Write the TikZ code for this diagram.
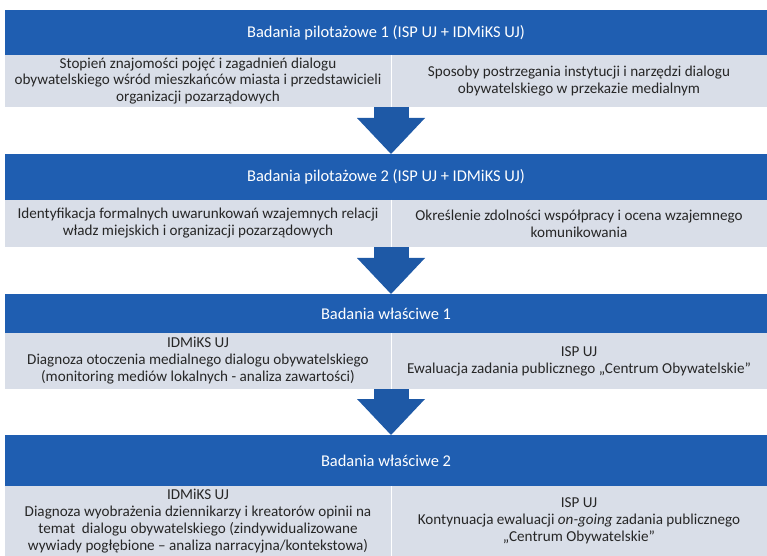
\documentclass[tikz,border=0pt]{standalone}
\usepackage{fontspec}
\setmainfont{Carlito}
\usetikzlibrary{arrows.meta}

\definecolor{HeadBlue}{RGB}{31,94,177}
\definecolor{CellGrey}{RGB}{217,222,232}
\definecolor{ArrowBlue}{RGB}{30,89,166}

\begin{document}
\begin{tikzpicture}[x=1bp,y=-1bp]
  \tikzset{HeadStyle/.style = {
    shape         = rectangle,
    fill          = HeadBlue,
    text          = white,
    anchor        = north west,
    minimum width = 762bp,
    inner sep     = 0pt,
    outer sep     = 0pt,
    font          = \fontsize{16.5}{18}\selectfont
    }
  }
  \tikzset{CellStyle/.style = {
    shape         = rectangle,
    fill          = CellGrey,
    text          = black!85,
    anchor        = north west,
    align         = center,
    inner sep     = 0pt,
    outer sep     = 0pt,
    font          = \fontsize{15.2}{17}\selectfont
    }
  }
  \tikzset{DividerStyle/.style = {
    draw          = white,
    line width    = 1bp
    }
  }
  \tikzset{ArrowStyle/.style = {
    draw          = ArrowBlue,
    line width    = 35bp,
    -{Triangle[width=68bp,length=36bp,line width=0pt]}
    }
  }

  \useasboundingbox (0,0) rectangle (767,556);

	\node[HeadStyle, minimum height=45bp](H1) at (5,10) {Badania pilotażowe 1 (ISP UJ + IDMiKS UJ)};
	\node[CellStyle, minimum width=386bp, minimum height=52bp](L1) at (5,55)
	  {Stopień znajomości pojęć i zagadnień dialogu\\obywatelskiego wśród mieszkańców miasta i przedstawicieli\\organizacji pozarządowych};
	\node[CellStyle, minimum width=376bp, minimum height=52bp](R1) at (391,55)
	  {Sposoby postrzegania instytucji i narzędzi dialogu\\obywatelskiego w przekazie medialnym};

	\node[HeadStyle, minimum height=46bp](H2) at (5,154) {Badania pilotażowe 2 (ISP UJ + IDMiKS UJ)};
	\node[CellStyle, minimum width=386bp, minimum height=47bp](L2) at (5,200)
	  {Identyfikacja formalnych uwarunkowań wzajemnych relacji\\władz miejskich i organizacji pozarządowych};
	\node[CellStyle, minimum width=376bp, minimum height=47bp](R2) at (391,200)
	  {Określenie zdolności współpracy i ocena wzajemnego\\komunikowania};

	\node[HeadStyle, minimum height=39bp](H3) at (5,294) {Badania właściwe 1};
	\node[CellStyle, minimum width=386bp, minimum height=56bp](L3) at (5,333)
	  {IDMiKS UJ\\Diagnoza otoczenia medialnego dialogu obywatelskiego\\(monitoring mediów lokalnych - analiza zawartości)};
	\node[CellStyle, minimum width=376bp, minimum height=56bp](R3) at (391,333)
	  {ISP UJ\\Ewaluacja zadania publicznego „Centrum Obywatelskie”};

	\node[HeadStyle, minimum height=51bp](H4) at (5,435) {Badania właściwe 2};
	\node[CellStyle, minimum width=386bp, minimum height=70bp](L4) at (5,486)
	  {IDMiKS UJ\\Diagnoza wyobrażenia dziennikarzy i kreatorów opinii na\\temat~ dialogu obywatelskiego (zindywidualizowane\\wywiady pogłębione -- analiza narracyjna/kontekstowa)};
	\node[CellStyle, minimum width=376bp, minimum height=70bp](R4) at (391,486)
	  {ISP UJ\\Kontynuacja ewaluacji \textit{on-going} zadania publicznego\\„Centrum Obywatelskie”};

	\draw[DividerStyle](L1.north east) to (L1.south east);
	\draw[DividerStyle](L2.north east) to (L2.south east);
	\draw[DividerStyle](L3.north east) to (L3.south east);
	\draw[DividerStyle](L4.north east) to (L4.south east);

	\draw[ArrowStyle](L1.south east) to (L1.south east |- H2.north);
	\draw[ArrowStyle](L2.south east) to (L2.south east |- H3.north);
	\draw[ArrowStyle](L3.south east) to (L3.south east |- H4.north);

\end{tikzpicture}
\end{document}
